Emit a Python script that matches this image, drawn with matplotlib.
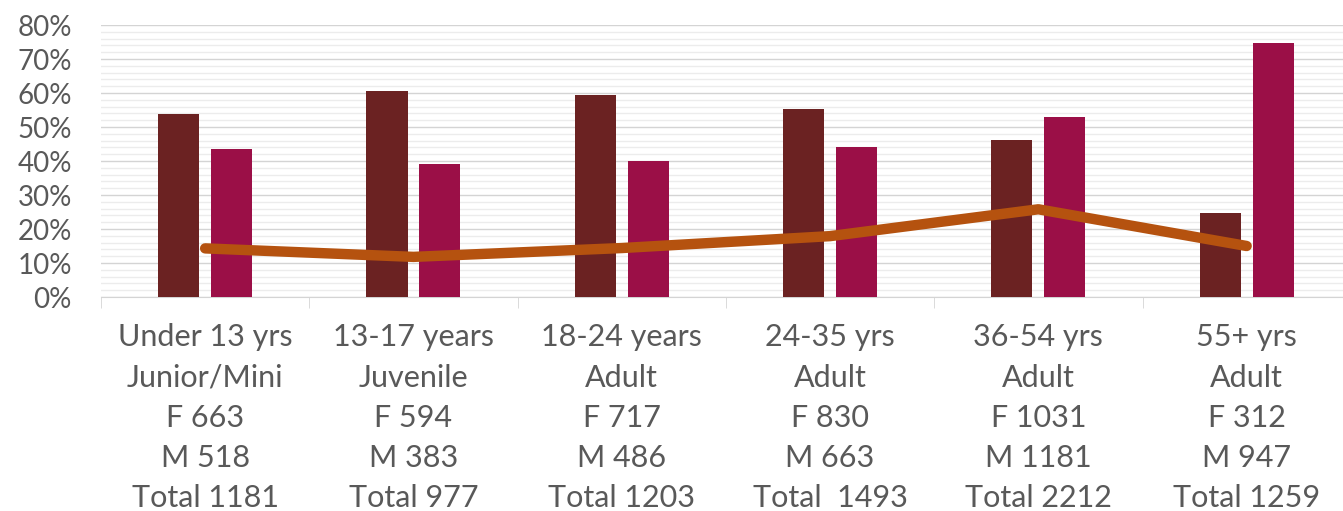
import matplotlib
matplotlib.use("Agg")
import matplotlib.pyplot as plt
from matplotlib.ticker import MultipleLocator, FixedLocator, PercentFormatter

categories = [
    "Under 13 yrs\nJunior/Mini\nF 663\nM 518\nTotal 1181",
    "13-17 years\nJuvenile\nF 594\nM 383\nTotal 977",
    "18-24 years\nAdult\nF 717\nM 486\nTotal 1203",
    "24-35 yrs\nAdult\nF 830\nM 663\nTotal  1493",
    "36-54 yrs\nAdult\nF 1031\nM 1181\nTotal 2212",
    "55+ yrs\nAdult\nF 312\nM 947\nTotal 1259",
]
female_pct = [0.538, 0.605, 0.593, 0.554, 0.463, 0.247]
male_pct = [0.435, 0.391, 0.401, 0.441, 0.530, 0.747]
share_pct = [0.143, 0.118, 0.144, 0.179, 0.258, 0.150]

plt.rcParams['font.family'] = ['Lato', 'DejaVu Sans']
text_color = '#595959'

fig = plt.figure(figsize=(13.43, 5.11), dpi=100)
ax = fig.add_axes([101/1343, (511-297)/511, (1343-101)/1343, (297-25)/511])

x = list(range(len(categories)))
w = 0.197
off = 0.127
ax.bar([i - off for i in x], female_pct, width=w, color='#6B2222', zorder=3)
ax.bar([i + off for i in x], male_pct, width=w, color='#9B0F47', zorder=3)
ax.plot(x, share_pct, color='#B5520F', lw=7.5, solid_capstyle='round',
        solid_joinstyle='round', zorder=4)

ax.set_ylim(0, 0.8)
ax.set_xlim(-0.5, -0.5 + (1343-101)/208.3)
ax.yaxis.set_major_locator(MultipleLocator(0.1))
ax.yaxis.set_minor_locator(MultipleLocator(0.02))
ax.yaxis.set_major_formatter(PercentFormatter(1.0, decimals=0))
ax.grid(axis='y', which='major', color='#d4d4d4', lw=1.0, zorder=0)
ax.grid(axis='y', which='minor', color='#ececec', lw=1.0, zorder=0)

for s in ['top', 'right', 'left']:
    ax.spines[s].set_visible(False)
ax.spines['bottom'].set_color('#d4d4d4')

ax.set_xticks(x)
ax.set_xticklabels(categories, linespacing=1.53, fontsize=22, color=text_color)
ax.xaxis.set_minor_locator(FixedLocator([i - 0.5 for i in range(len(categories) + 1)]))
ax.tick_params(axis='x', which='major', length=0, pad=19)
ax.tick_params(axis='x', which='minor', length=8, color='#d4d4d4')
ax.tick_params(axis='y', which='both', length=0, labelsize=20, labelcolor=text_color, pad=21)

fig.savefig('out.png', dpi=100)
